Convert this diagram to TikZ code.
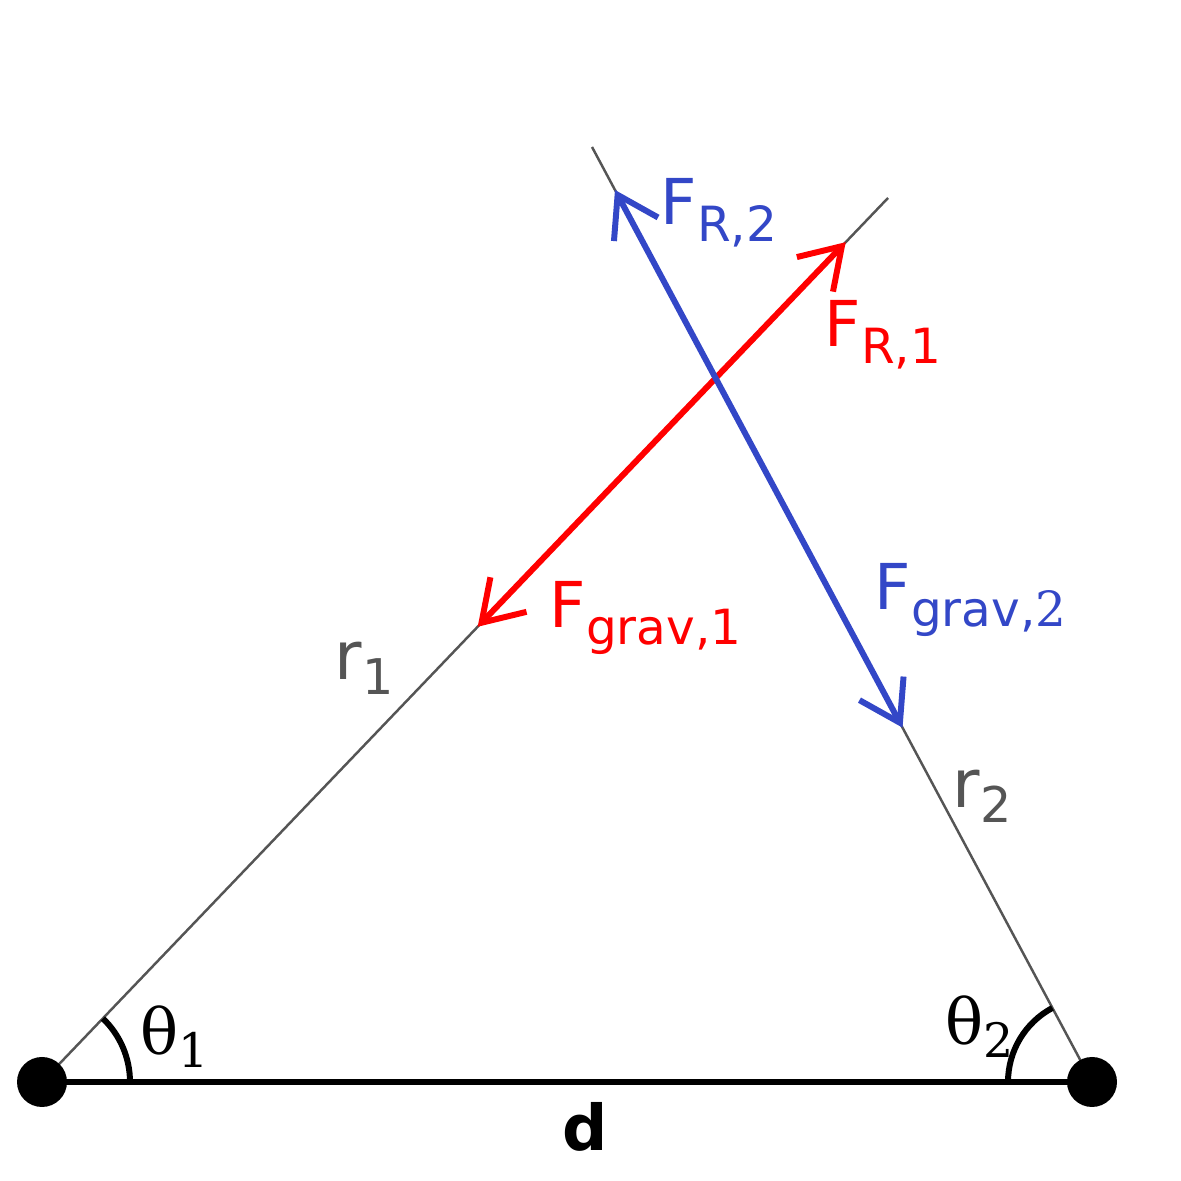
\documentclass[tikz,border=0pt]{standalone}
\usepackage{fontspec}
\setmainfont{DejaVu Sans}
\newfontfamily\thetafont{DejaVu Serif}
\usetikzlibrary{arrows.meta,calc}
\definecolor{forceblue}{RGB}{51,71,199}
\definecolor{forcered}{RGB}{255,0,0}
\definecolor{radgray}{RGB}{85,85,85}
\newcommand{\sublab}[2]{{\fontsize{18}{20}\selectfont #1}\raisebox{-1.7mm}{\fontsize{13.8}{15}\selectfont #2}}
\begin{document}
\begin{tikzpicture}[
    radius line/.style={radgray, line width=0.7pt},
    force/.style={line width=1.7pt,
      {Straight Barb[length=3.9mm,width=5mm]}-{Straight Barb[length=3.9mm,width=5mm]}},
    angle arc/.style={line width=1.7pt},
    lbl/.style={inner sep=0pt, anchor=base west}
  ]
  \useasboundingbox (0,0) rectangle (11.81,11.81);
  \coordinate (m1) at (0.42,0.99);
  \coordinate (m2) at (10.92,0.99);
  \coordinate (e1) at (8.88,9.83);
  \coordinate (e2) at (5.92,10.34);
  \coordinate (a1) at (1.30,0.99);
  \coordinate (a2) at (10.08,0.99);
  % radius lines
  \draw[radius line] (m1) -- (e1);
  \draw[radius line] (m2) -- (e2);
  % separation d
  \draw[line width=1.7pt] (m1) -- (m2);
  \fill (m1) circle[radius=0.25];
  \fill (m2) circle[radius=0.25];
  \draw[angle arc] (a1) arc[start angle=0, end angle=46.26, radius=0.88];
  \draw[angle arc] (a2) arc[start angle=180, end angle=118.14, radius=0.84];
  % forces
  \draw[force, forcered] ($(m1)!0.515!(e1)$) coordinate (g1) -- ($(m1)!0.950!(e1)$) coordinate (f1);
  \draw[force, forceblue] ($(m2)!0.954!(e2)$) coordinate (f2) -- ($(m2)!0.379!(e2)$) coordinate (g2);
  % labels
  \node[lbl, forceblue] (lr2) at (6.60,9.56) {\sublab{F}{R,2}};
  \node[lbl, forcered] (lr1) at (8.24,8.34) {\sublab{F}{R,1}};
  \node[lbl, forcered] (lg1) at (5.49,5.53) {\sublab{F}{grav,1}};
  \node[lbl, forceblue] (lg2) at (8.74,5.71) {\sublab{F}{grav,{\thetafont 2}}};
  \node[lbl, radgray] (lrad1) at (3.34,5.01) {{\fontsize{19}{20}\selectfont r}\raisebox{-1.5mm}{\fontsize{14}{15}\selectfont 1}};
  \node[lbl, radgray] (lrad2) at (9.52,3.73) {{\fontsize{19}{20}\selectfont r}\raisebox{-1.5mm}{\fontsize{14}{15}\selectfont 2}};
  \node[lbl] (lt1) at (1.40,1.26) {\thetafont{\fontsize{18}{20}\selectfont θ}\raisebox{-1.3mm}{\fontsize{13.5}{15}\selectfont 1}};
  \node[lbl] (lt2) at (9.45,1.36) {\thetafont{\fontsize{18}{20}\selectfont θ}\raisebox{-1.3mm}{\fontsize{13.5}{15}\selectfont 2}};
  \node[inner sep=0pt, anchor=base] (ld) at (5.85,0.30) {\fontsize{18}{20}\selectfont\bfseries d};
\end{tikzpicture}
\end{document}
